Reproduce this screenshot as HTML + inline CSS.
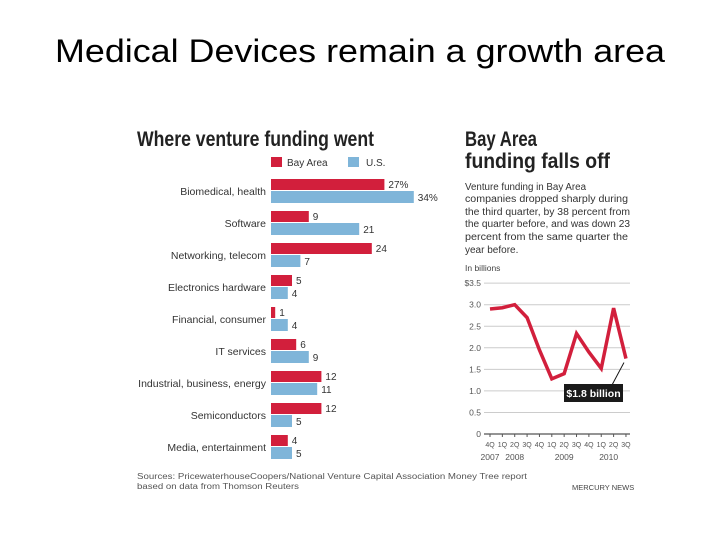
<!DOCTYPE html>
<html><head><meta charset="utf-8"><style>
html,body{margin:0;padding:0;background:#fff;}
svg{display:block;font-family:"Liberation Sans",sans-serif;}
</style></head><body>
<svg width="720" height="540" viewBox="0 0 720 540">
<text x="360" y="62" text-anchor="middle" font-size="32" fill="#000" textLength="610" lengthAdjust="spacingAndGlyphs">Medical Devices remain a growth area</text>
<text x="137" y="146" font-size="21" font-weight="bold" fill="#222" textLength="237" lengthAdjust="spacingAndGlyphs">Where venture funding went</text>
<rect x="271" y="157" width="11" height="10" fill="#d21f3c"/>
<text x="287" y="166" font-size="10" fill="#333">Bay Area</text>
<rect x="348" y="157" width="11" height="10" fill="#7fb5d9"/>
<text x="366" y="166" font-size="10" fill="#333">U.S.</text>
<g id="bars"></g>
<text x="137" y="479" font-size="8" fill="#555" textLength="390" lengthAdjust="spacingAndGlyphs">Sources: PricewaterhouseCoopers/National Venture Capital Association Money Tree report</text>
<text x="137" y="489" font-size="8" fill="#555" textLength="162" lengthAdjust="spacingAndGlyphs">based on data from Thomson Reuters</text>
<text x="465" y="146" font-size="21" font-weight="bold" fill="#222" textLength="72" lengthAdjust="spacingAndGlyphs">Bay Area</text>
<text x="465" y="168" font-size="21" font-weight="bold" fill="#222" textLength="145" lengthAdjust="spacingAndGlyphs">funding falls off</text>
<g font-size="10" fill="#333">
<text x="465" y="190" textLength="121" lengthAdjust="spacingAndGlyphs">Venture funding in Bay Area</text>
<text x="465" y="202" textLength="163" lengthAdjust="spacingAndGlyphs">companies dropped sharply during</text>
<text x="465" y="215" textLength="165" lengthAdjust="spacingAndGlyphs">the third quarter, by 38 percent from</text>
<text x="465" y="227" textLength="165" lengthAdjust="spacingAndGlyphs">the quarter before, and was down 23</text>
<text x="465" y="240" textLength="163" lengthAdjust="spacingAndGlyphs">percent from the same quarter the</text>
<text x="465" y="253">year before.</text>
</g>
<text x="465" y="271" font-size="8.5" fill="#444">In billions</text>
<g id="line"></g>
<text x="572" y="490" font-size="7.5" fill="#444">MERCURY NEWS</text>
</svg>
<script>
const categories=["Biomedical, health","Software","Networking, telecom","Electronics hardware","Financial, consumer","IT services","Industrial, business, energy","Semiconductors","Media, entertainment"];
const bayArea=[27,9,24,5,1,6,12,12,4];
const us=[34,21,7,4,4,9,11,5,5];
const quarters=["4Q","1Q","2Q","3Q","4Q","1Q","2Q","3Q","4Q","1Q","2Q","3Q"];
const funding=[2.9,2.93,3.0,2.7,1.95,1.28,1.4,2.33,1.9,1.52,2.92,1.75];
const yTicks=[0,0.5,1.0,1.5,2.0,2.5,3.0,3.5];
const yTickLabels=["0","0.5","1.0","1.5","2.0","2.5","3.0","$3.5"];
const years=[{t:"2007",i:0},{t:"2008",i:2},{t:"2009",i:6},{t:"2010",i:9.6}];
const NS="http://www.w3.org/2000/svg";
function mk(tag,attrs,parent,txt){const e=document.createElementNS(NS,tag);for(const k in attrs)e.setAttribute(k,attrs[k]);if(txt!==undefined)e.textContent=txt;parent.appendChild(e);return e;}
const bx=v=>271+v*4.2;
const rowY=i=>179+i*32;
const bg=document.getElementById('bars');
categories.forEach((c,i)=>{
  const y=rowY(i);
  const l=mk('text',{x:266,y:y+16,'font-size':10.5,fill:'#333','text-anchor':'end'},bg,c);
  
  
  const r=mk('rect',{x:271,y:y,width:bx(bayArea[i])-271,height:11,fill:'#d21f3c'},bg);
  
  
  const rt=mk('text',{x:bx(bayArea[i])+4,y:y+9,'font-size':10,fill:'#333'},bg,bayArea[i]+(i===0?'%':''));
  
  
  const b=mk('rect',{x:271,y:y+12,width:bx(us[i])-271,height:12,fill:'#7fb5d9'},bg);
  
  
  const bt=mk('text',{x:bx(us[i])+4,y:y+22,'font-size':10,fill:'#333'},bg,us[i]+(i===0?'%':''));
  
  
});
const lg=document.getElementById('line');
const ly=v=>434-v*43.1;
const lx=i=>490+i*12.36;
yTicks.forEach((t,i)=>{
  const g=mk('line',{x1:484,x2:630,y1:ly(t),y2:ly(t),stroke:i===0?'#555':'#ccc','stroke-width':i===0?1.2:1},lg);
  
  
  const tl=mk('text',{x:481,y:ly(t)+3,'font-size':8.5,fill:'#555','text-anchor':'end'},lg,yTickLabels[i]);
  
  
});
quarters.forEach((q,i)=>{
  const tk=mk('line',{x1:lx(i),x2:lx(i),y1:434,y2:437,stroke:'#555'},lg);
  
  
  const t=mk('text',{x:lx(i),y:447,'font-size':7,fill:'#555','text-anchor':'middle'},lg,q);
  
  
});
years.forEach(y=>{
  const t=mk('text',{x:lx(y.i),y:460,'font-size':8.5,fill:'#555','text-anchor':'middle'},lg,y.t);
  
  
});
const p=mk('polyline',{points:funding.map((v,i)=>lx(i)+','+ly(v)).join(' '),fill:'none',stroke:'#d21f3c','stroke-width':3.5,'stroke-linejoin':'miter'},lg);


const last=funding.length-1;
const pt=mk('line',{x1:lx(last)-2,y1:ly(funding[last])+4,x2:612,y2:385,stroke:'#111','stroke-width':1},lg);


const cb=mk('rect',{x:564,y:384,width:59,height:18,fill:'#1a1a1a'},lg);


const ct=mk('text',{x:593.5,y:397,'font-size':10.5,'font-weight':'bold',fill:'#fff','text-anchor':'middle'},lg,'$1.8 billion');


</script>
</body></html>
